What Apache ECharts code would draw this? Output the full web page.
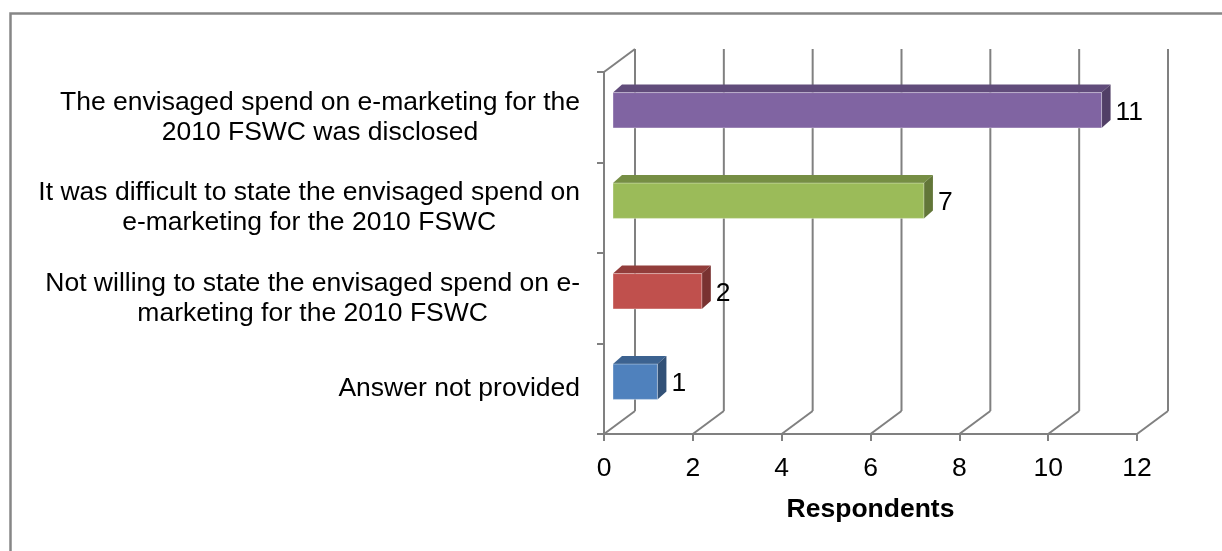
<!DOCTYPE html>
<html>
<head>
<meta charset="utf-8">
<script src="https://cdn.jsdelivr.net/npm/echarts@6/dist/echarts.min.js"></script>
<style>
  html, body { margin: 0; padding: 0; background: #fff; overflow: hidden; }
  #chart { width: 1222px; height: 551px; }
</style>
</head>
<body>
<div id="chart"></div>
<script>
// Survey answers, listed bottom to top as they appear on the category axis
const categories = [
  'Answer not provided',
  'Not willing to state the envisaged spend on e-\nmarketing for the 2010 FSWC',
  'It was difficult to state the envisaged spend on\ne-marketing for the 2010 FSWC',
  'The envisaged spend on e-marketing for the\n2010 FSWC was disclosed'
];
const respondents = [1, 2, 7, 11];
const barColors = ['#4F81BD', '#C0504D', '#9BBB59', '#8064A2'];
const xTicks = [0, 2, 4, 6, 8, 10, 12];
const axisTitle = 'Respondents';

const FONT = '"Liberation Sans", Arial, sans-serif';
const FONT_SIZE = 26.5;
const GRID_COLOR = '#808080';

// Oblique projection: how far the back wall sits from the front plane,
// and where each bar block sits inside that depth.
const WALL_DEPTH = [31, -23];
const BAR_SHIFT = [9, -8];
const BAR_DEPTH = [9, -8];

function shade(hex, f) {
  const n = parseInt(hex.slice(1), 16);
  const r = Math.round(((n >> 16) & 255) * f);
  const g = Math.round(((n >> 8) & 255) * f);
  const b = Math.round((n & 255) * f);
  return 'rgb(' + r + ',' + g + ',' + b + ')';
}

// Back wall gridlines, floor diagonals and the left wall's top edge
function renderWalls(params, api) {
  const cs = params.coordSys;
  const v = api.value(0);
  const x = api.coord([v, 0])[0];
  const top = cs.y;
  const bottom = cs.y + cs.height;
  const [dx, dy] = WALL_DEPTH;
  const style = { stroke: GRID_COLOR, lineWidth: 2, fill: null };
  const children = [
    { type: 'line', shape: { x1: x + dx, y1: top + dy, x2: x + dx, y2: bottom + dy }, style: style },
    { type: 'line', shape: { x1: x, y1: bottom, x2: x + dx, y2: bottom + dy }, style: style }
  ];
  if (v === 0) {
    children.push({ type: 'line', shape: { x1: x, y1: top, x2: x + dx, y2: top + dy }, style: style });
  }
  return { type: 'group', children: children };
}

// 3D bar block: top face, side face, front face and the value label
function renderBar(params, api) {
  const v = api.value(0);
  const c = api.value(1);
  const p0 = api.coord([0, c]);
  const p1 = api.coord([v, c]);
  const band = api.size([0, 1])[1];
  const h = band * 0.39;
  const x0 = p0[0] + BAR_SHIFT[0];
  const x1 = p1[0] + BAR_SHIFT[0];
  const yMid = p0[1] + BAR_SHIFT[1] + 1;
  const yT = yMid - h / 2;
  const yB = yMid + h / 2;
  const [dx, dy] = BAR_DEPTH;
  const col = barColors[params.dataIndex];
  return {
    type: 'group',
    children: [
      { type: 'polygon', shape: { points: [[x0, yT], [x1, yT], [x1 + dx, yT + dy], [x0 + dx, yT + dy]] },
        style: { fill: shade(col, 0.76) } },
      { type: 'polygon', shape: { points: [[x1, yT], [x1 + dx, yT + dy], [x1 + dx, yB + dy], [x1, yB]] },
        style: { fill: shade(col, 0.63) } },
      { type: 'rect', shape: { x: x0, y: yT, width: x1 - x0, height: h },
        style: { fill: col, stroke: 'rgba(255,255,255,0.35)', lineWidth: 1 } },
      { type: 'text', x: x1 + dx + 5, y: yMid + 2,
        style: { text: String(v), fill: '#000', font: FONT_SIZE + 'px ' + FONT, verticalAlign: 'middle', align: 'left' } }
    ]
  };
}

const chart = echarts.init(document.getElementById('chart'), null, { renderer: 'canvas' });
chart.setOption({
  animation: false,
  backgroundColor: '#fff',
  graphic: [{
    type: 'rect', left: 8, top: 11, z: -10, silent: true,
    shape: { width: 1400, height: 700 },
    style: { fill: 'none', stroke: '#868686', lineWidth: 2.5 }
  }],
  grid: { left: 604, right: 85, top: 72, bottom: 117, containLabel: false, outerBoundsMode: 'none' },
  xAxis: {
    type: 'value', min: 0, max: 12, interval: 2,
    axisLine: { show: true, lineStyle: { color: GRID_COLOR, width: 2 } },
    axisTick: { show: true, length: 7, lineStyle: { color: GRID_COLOR, width: 2 } },
    splitLine: { show: false },
    axisLabel: {
      color: '#000', fontFamily: FONT, fontSize: FONT_SIZE, lineHeight: 30, margin: 20,
      formatter: function (v) { return xTicks.indexOf(v) >= 0 ? String(v) : ''; }
    },
    name: axisTitle, nameLocation: 'middle', nameGap: 61,
    nameTextStyle: { color: '#000', fontFamily: FONT, fontSize: FONT_SIZE, fontWeight: 'bold', lineHeight: 30 }
  },
  yAxis: {
    type: 'category', data: categories,
    axisLine: { show: true, lineStyle: { color: GRID_COLOR, width: 2 } },
    axisTick: { show: true, length: 7, alignWithLabel: false, lineStyle: { color: GRID_COLOR, width: 2 } },
    splitLine: { show: false },
    axisLabel: {
      margin: 24, color: '#000',
      formatter: function (v) {
        return v.split('\n').map(function (l) { return '{c|' + l + '}'; }).join('\n');
      },
      rich: { c: { align: 'center', fontFamily: FONT, fontSize: FONT_SIZE, lineHeight: 30, color: '#000' } }
    }
  },
  series: [
    {
      type: 'custom', silent: true, z: 1, clip: false,
      encode: { x: 0, y: 1 },
      data: xTicks.map(function (v) { return [v, 0]; }),
      renderItem: renderWalls
    },
    {
      type: 'custom', z: 3, clip: false,
      encode: { x: 0, y: 1 },
      data: respondents.map(function (v, i) { return [v, i]; }),
      renderItem: renderBar
    }
  ]
});
</script>
</body>
</html>
